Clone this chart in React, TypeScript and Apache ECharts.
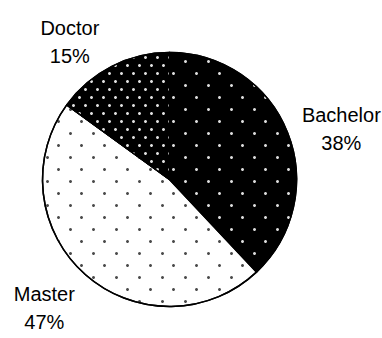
import React, { useEffect, useRef } from "react";
import * as echarts from "echarts";

const categories = ["Bachelor", "Master", "Doctor"];
const shares = [38, 47, 15];

const fills = ["#000000", "#ffffff", "#000000"];
const decals = [
  { symbol: "circle", symbolSize: 1, color: "#dcdcdc", dashArrayX: [[2.5, 19.2], [0, 10.85, 2.5, 8.35]], dashArrayY: [2.5, 8.35] },
  { symbol: "circle", symbolSize: 1, color: "#4a4a4a", dashArrayX: [[2.4, 19.3], [0, 10.85, 2.4, 8.45]], dashArrayY: [2.4, 8.45] },
  { symbol: "circle", symbolSize: 1, color: "#e0e0e0", dashArrayX: [[2.6, 8.4], [0, 5.5, 2.6, 2.9]], dashArrayY: [2.6, 4.4] },
];
// small nudges of each label box (style only)
const labelShift = [[0, 0], [1, 26], [-3, -15]];

export default function App() {
  const ref = useRef<HTMLDivElement>(null);
  useEffect(() => {
    document.body.style.margin = "0";
    const chart = echarts.init(ref.current!, null, { renderer: "svg" });
    chart.setOption({
      animation: false,
      backgroundColor: "#ffffff",
      series: [
        {
          type: "pie",
          center: [169.5, 179.5],
          radius: 127,
          startAngle: 90,
          clockwise: true,
          data: categories.map((name, i) => ({
            name,
            value: shares[i],
            itemStyle: { color: fills[i], decal: decals[i] },
          })),
          itemStyle: { borderColor: "#000", borderWidth: 1.5 },
          emphasis: { disabled: true },
          label: {
            show: true,
            position: "outside",
            overflow: "none",
            formatter: (p: any) => `${p.name}\n${p.value}%`,
            fontFamily: "Liberation Sans, Arial, sans-serif",
            fontSize: 20,
            lineHeight: 28,
            color: "#000",
          },
          labelLine: { show: false, length: 10, length2: 0 },
          labelLayout: (p: any) => {
            const r = p.labelRect;
            const s = labelShift[p.dataIndex] || [0, 0];
            return {
              x: r.x + r.width / 2 + s[0],
              y: r.y + r.height / 2 + s[1],
              align: "center",
              verticalAlign: "middle",
            };
          },
        },
      ],
    });
    return () => chart.dispose();
  }, []);
  return <div ref={ref} style={{ width: 382, height: 338 }} />;
}
